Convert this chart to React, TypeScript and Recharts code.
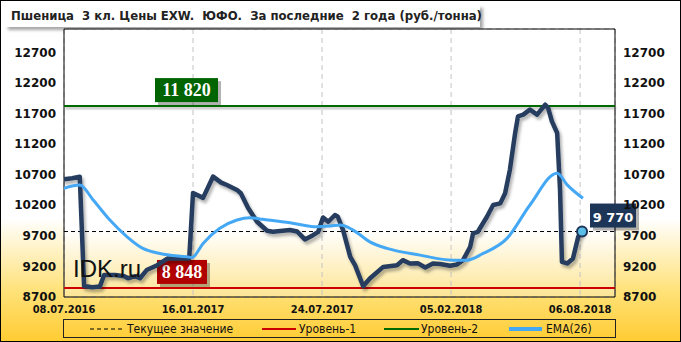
import React from 'react';
import { LineChart, Line, XAxis, YAxis, CartesianGrid, ReferenceLine, ReferenceArea, ReferenceDot } from 'recharts';

const xTicks = [0, 27, 54, 81, 108];
const xLabels = ['08.07.2016', '16.01.2017', '24.07.2017', '05.02.2018', '06.08.2018'];
const yTicks = [8700, 9200, 9700, 10200, 10700, 11200, 11700, 12200, 12700];

// weeks since 08.07.2016
const priceWeeks = [
  0, 1.7, 3.3, 4.2, 5.9, 7.5, 8.4, 10.7, 12.6, 13.4, 14.9, 15.9, 17.3, 19.5, 21.7, 26.2,
  27.0, 29.1, 31.2, 32.9, 34.1, 36.2, 37.0, 38.5, 40.4, 42.5, 43.7, 47.3, 48.8, 50.4, 52.1,
  53.2, 54.2, 55.3, 56.7, 57.3, 58.4, 59.9, 60.9, 62.6, 64.0, 66.8, 69.7, 70.9, 72.4, 74.1,
  75.6, 77.2, 78.7, 80.8, 82.2, 83.5, 85.0, 85.6, 86.6, 88.5, 89.8, 91.3, 92.3, 93.3, 94.4,
  95.0, 96.1, 97.5, 99.0, 100.7, 101.3, 102.1, 103.2, 103.8, 104.2, 105.3, 106.5, 107.6, 108.4,
];
const priceValues = [
  10625, 10640, 10665, 8880, 8860, 8870, 9060, 9060, 9040, 9006, 9040, 9006, 9140, 9220, 9330, 9330,
  10400, 10320, 10668, 10570, 10530, 10450, 10395, 10160, 9930, 9782, 9766, 9794, 9770, 9641, 9710,
  9766, 10000, 9930, 10040, 10012, 9794, 9356, 9220, 8875, 9002, 9192, 9220, 9302, 9248, 9250,
  9182, 9248, 9240, 9210, 9230, 9302, 9520, 9740, 9766, 10012, 10204, 10230, 10396, 10778, 11380,
  11652, 11680, 11762, 11680, 11844, 11790, 11570, 11380, 10450, 9274, 9248, 9330, 9683, 9770,
];

const emaWeeks = [
  0, 3.3, 6.1, 9.6, 13.2, 16.5, 20.1, 25.7, 26.8, 29.1, 32.6, 36.2, 38.9, 41.6, 47.3, 52.9,
  55.7, 57.8, 60.5, 64.0, 67.6, 74.5, 81.4, 84.3, 87.7, 92.7, 97.5, 103.2, 105.3, 108.6,
];
const emaValues = [
  10478, 10530, 10286, 9958, 9684, 9494, 9412, 9356, 9345, 9576, 9822, 9958, 9996, 9970, 9914, 9848,
  9860, 9876, 9794, 9602, 9494, 9384, 9302, 9302, 9412, 9658, 10204, 10724, 10532, 10313,
];

const level1 = 8848;
const level2 = 11820;
const current = 9770;

const priceData = priceWeeks.map((w, i) => ({ w, v: priceValues[i] }));
const emaData = emaWeeks.map((w, i) => ({ w, v: emaValues[i] }));
const last = priceData[priceData.length - 1];

const fmt = (n: number) => String(n).replace(/(\d)(\d{3})$/, '$1 $2');

const BoxLabel = (props: any) => {
  const { viewBox, dx, w, fill, text, font, size } = props;
  const x = viewBox.x + dx;
  const y = viewBox.y - 28;
  return (
    <g>
      <rect x={x + 3} y={y + 3} width={w} height={24} fill="rgba(0,0,0,0.3)" />
      <rect x={x} y={y} width={w} height={24} fill={fill} />
      <text x={x + w / 2} y={y + 18} textAnchor="middle" fill="#fff" fontFamily={font} fontWeight="bold" fontSize={size}>
        {text}
      </text>
    </g>
  );
};

const tickFont = { fontFamily: 'DejaVu Sans', fontWeight: 'bold', fontSize: 12, fill: '#111' };

export default function App() {
  return (
    <div
      style={{
        position: 'absolute',
        left: 0,
        top: 0,
        width: 679,
        height: 340,
        border: '1px solid #000',
        background: 'linear-gradient(to bottom, #ffffff 0%, #ffffff 64%, #ffe27a 85%, #ffcc33 100%)',
        overflow: 'hidden',
      }}
    >
      <div
        style={{
          position: 'absolute',
          left: 4,
          top: 4,
          width: 475,
          height: 22,
          background: '#fff',
          boxShadow: '3px 3px 3px rgba(0,0,0,0.35)',
          fontFamily: 'DejaVu Sans Condensed',
          fontWeight: 'bold',
          fontSize: 13,
          lineHeight: '22px',
          color: '#222',
          paddingLeft: 6,
          boxSizing: 'border-box',
          whiteSpace: 'pre',
        }}
      >
        {'Пшеница  3 кл. Цены EXW.  ЮФО.  За последние  2 года (руб./тонна)'}
      </div>
      <LineChart
        width={681}
        height={342}
        margin={{ top: 29, right: 0, left: -1, bottom: 25 }}
        style={{ position: 'absolute', left: -1, top: -1 }}
      >
        <defs>
          <linearGradient id="plotBg" x1="0" y1="0" x2="0" y2="1">
            <stop offset="0%" stopColor="#ffffff" />
            <stop offset="75%" stopColor="#ffffff" />
            <stop offset="100%" stopColor="#fde594" />
          </linearGradient>
          <filter id="shadow" x="-5%" y="-5%" width="110%" height="120%">
            <feDropShadow dx="2" dy="3" stdDeviation="1.5" floodColor="#000" floodOpacity="0.3" />
          </filter>
        </defs>
        <CartesianGrid stroke="#c4c4c4" strokeDasharray="5 4" fill="url(#plotBg)" />
        <XAxis
          type="number"
          dataKey="w"
          domain={[0, 115.3]}
          ticks={xTicks}
          tickFormatter={(t: number) => xLabels[xTicks.indexOf(t)]}
          axisLine={false}
          tickLine={false}
          height={20}
          allowDataOverflow
          tick={{ ...tickFont, fontFamily: 'DejaVu Sans Condensed', fontSize: 11 }}
        />
        <YAxis
          yAxisId="l"
          domain={[8700, 13080]}
          ticks={yTicks}
          axisLine={false}
          tickLine={false}
          width={65}
          allowDataOverflow
          tick={tickFont}
        />
        <YAxis
          yAxisId="r"
          orientation="right"
          domain={[8700, 13080]}
          ticks={yTicks}
          axisLine={false}
          tickLine={false}
          width={66}
          allowDataOverflow
          tick={{ ...tickFont, textAnchor: 'start' }}
        />
        <ReferenceArea yAxisId="l" y1={8700} y2={13080} fill="none" stroke="#000" strokeWidth={1} ifOverflow="visible" />
        <ReferenceLine
          yAxisId="l"
          y={level1}
          stroke="#cc0000"
          strokeWidth={2}
          label={(p: any) => (
            <BoxLabel {...p} dx={93} w={50} fill="#b00000" text={fmt(level1)} font="Liberation Serif" size={18} />
          )}
        />
        <ReferenceLine
          yAxisId="l"
          y={level2}
          stroke="#006a00"
          strokeWidth={2}
          style={{ filter: 'drop-shadow(1px 2px 1px rgba(0,0,0,0.3))' }}
          label={(p: any) => (
            <BoxLabel {...p} dx={91} w={63} fill="#006400" text={fmt(level2)} font="Liberation Serif" size={18} />
          )}
        />
        <ReferenceLine
          yAxisId="l"
          y={current}
          stroke="#000"
          strokeWidth={1}
          strokeDasharray="4 3"
          label={(p: any) => (
            <BoxLabel {...p} dx={526} w={46} fill="#1d3557" text={fmt(current)} font="DejaVu Sans" size={13} />
          )}
        />
        <Line
          yAxisId="l"
          data={priceData}
          dataKey="v"
          type="linear"
          stroke="#253d5f"
          strokeWidth={4.5}
          strokeLinejoin="round"
          strokeLinecap="round"
          dot={false}
          filter="url(#shadow)"
          isAnimationActive={false}
        />
        <Line
          yAxisId="l"
          data={emaData}
          dataKey="v"
          type="monotone"
          stroke="#45a8f5"
          strokeWidth={3}
          dot={false}
          isAnimationActive={false}
        />
        <ReferenceDot yAxisId="l" x={last.w} y={last.v} r={5} fill="#5bbfe8" stroke="#1d3557" strokeWidth={2} />
      </LineChart>
      <div
        style={{
          position: 'absolute',
          left: 72,
          top: 254,
          fontFamily: 'Liberation Sans',
          fontSize: 24,
          color: '#111',
          pointerEvents: 'none',
        }}
      >
        IDK.ru
      </div>
      <svg width={554} height={20} style={{ position: 'absolute', left: 62, top: 318 }}>
        <rect x={0.5} y={0.5} width={552} height={18} fill="none" stroke="#222" />
        <g fontFamily="DejaVu Sans Condensed" fontSize={12} fill="#111">
          <line x1={27} x2={60} y1={10} y2={10} stroke="#000" strokeWidth={1.2} strokeDasharray="4 3" />
          <text x={64} y={14}>Текущее значение</text>
          <line x1={199} x2={233} y1={10} y2={10} stroke="#cc0000" strokeWidth={2} />
          <text x={236} y={14}>Уровень-1</text>
          <line x1={321} x2={356} y1={10} y2={10} stroke="#006a00" strokeWidth={2} />
          <text x={358} y={14}>Уровень-2</text>
          <line x1={446} x2={479} y1={10} y2={10} stroke="#45a8f5" strokeWidth={4} />
          <text x={483} y={14}>EMA(26)</text>
        </g>
      </svg>
    </div>
  );
}
